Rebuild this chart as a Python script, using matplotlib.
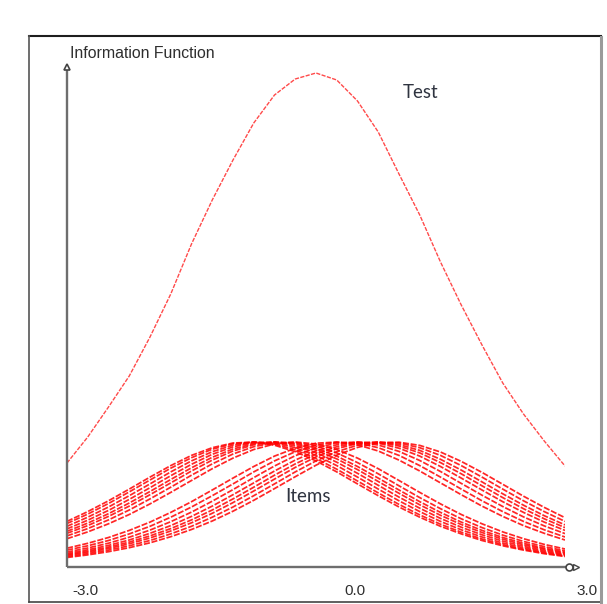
import matplotlib
matplotlib.use("Agg")
import matplotlib.pyplot as plt
from matplotlib.lines import Line2D

W, H = 607, 604  # output size in pixels

# theta scale shared by all curves
theta = [-3.0, -2.75, -2.5, -2.25, -2.0, -1.75, -1.5, -1.25, -1.0, -0.75, -0.5, -0.25,
         0.0, 0.25, 0.5, 0.75, 1.0, 1.25, 1.5, 1.75, 2.0, 2.25, 2.5, 2.75, 3.0]

# test information (same vertical units as the items)
test_info = [104, 130, 160, 191, 230, 273, 323, 367, 407, 444, 472, 488,
             494, 487, 466, 435, 393, 352, 305, 262, 222, 184, 153, 126, 101]

# items peaking left of centre
items_easy = [
    [45.6, 55.4, 66.2, 77.9, 89.9, 101.4, 111.6, 119.3, 124.0, 124.8, 121.8, 115.3, 106.1,
     95.1, 83.1, 71.3, 60.0, 49.8, 40.7, 33.1, 26.5, 21.2, 16.9, 13.3, 10.5],
    [43.5, 52.9, 63.5, 75.1, 87.0, 98.8, 109.3, 117.8, 123.2, 125.0, 122.9, 117.2, 108.5,
     97.8, 86.0, 74.1, 62.6, 52.1, 42.8, 34.8, 28.0, 22.4, 17.8, 14.1, 11.1],
    [40.7, 49.8, 60.0, 71.3, 83.1, 95.1, 106.1, 115.3, 121.8, 124.8, 124.0, 119.3, 111.6,
     101.4, 89.9, 77.9, 66.2, 55.4, 45.6, 37.2, 30.0, 24.0, 19.1, 15.2, 12.0],
    [38.1, 46.8, 56.6, 67.6, 79.3, 91.3, 102.7, 112.7, 120.1, 124.3, 124.7, 121.2, 114.4,
     104.8, 93.7, 81.7, 69.9, 58.8, 48.6, 39.8, 32.2, 25.9, 20.6, 16.4, 12.9],
    [35.7, 43.9, 53.3, 64.0, 75.5, 87.5, 99.2, 109.7, 118.0, 123.3, 125.0, 122.7, 116.9,
     108.1, 97.4, 85.5, 73.7, 62.2, 51.7, 42.5, 34.5, 27.8, 22.2, 17.7, 13.9],
    [33.7, 41.4, 50.6, 60.9, 72.3, 84.1, 96.0, 106.9, 116.0, 122.2, 124.9, 123.8, 118.8,
     110.9, 100.5, 88.9, 77.0, 65.3, 54.6, 44.9, 36.6, 29.5, 23.7, 18.8, 14.9],
    [31.1, 38.4, 47.1, 57.0, 68.1, 79.8, 91.8, 103.1, 113.0, 120.3, 124.3, 124.6, 121.0,
     114.1, 104.4, 93.2, 81.2, 69.4, 58.3, 48.2, 39.4, 31.9, 25.6, 20.4, 16.2],
    [28.3, 35.1, 43.2, 52.5, 63.1, 74.6, 86.5, 98.3, 108.9, 117.5, 123.0, 125.0, 123.0,
     117.5, 108.9, 98.3, 86.5, 74.6, 63.1, 52.5, 43.2, 35.1, 28.3, 22.6, 18.0],
]

# items peaking right of centre
items_hard = [
    [18.8, 23.7, 29.5, 36.6, 44.9, 54.6, 65.3, 77.0, 88.9, 100.5, 110.9, 118.8, 123.8,
     124.9, 122.2, 116.0, 106.9, 96.0, 84.1, 72.3, 60.9, 50.6, 41.4, 33.7, 27.0],
    [16.9, 21.2, 26.5, 33.1, 40.7, 49.8, 60.0, 71.3, 83.1, 95.1, 106.1, 115.3, 121.8,
     124.8, 124.0, 119.3, 111.6, 101.4, 89.9, 77.9, 66.2, 55.4, 45.6, 37.2, 30.0],
    [15.0, 19.0, 23.8, 29.8, 36.9, 45.3, 54.9, 65.8, 77.4, 89.4, 101.0, 111.3, 119.1,
     123.9, 124.9, 122.0, 115.6, 106.5, 95.5, 83.6, 71.8, 60.5, 50.1, 41.1, 33.4],
    [13.6, 17.2, 21.6, 27.0, 33.7, 41.4, 50.6, 60.9, 72.3, 84.1, 96.0, 106.9, 116.0,
     122.2, 124.9, 123.8, 118.8, 110.9, 100.5, 88.9, 77.0, 65.3, 54.6, 44.9, 36.6],
    [12.5, 15.8, 19.9, 24.9, 31.1, 38.4, 47.1, 57.0, 68.1, 79.8, 91.8, 103.1, 113.0,
     120.3, 124.3, 124.6, 121.0, 114.1, 104.4, 93.2, 81.2, 69.4, 58.3, 48.2, 39.4],
    [11.6, 14.6, 18.5, 23.2, 29.0, 36.0, 44.2, 53.7, 64.4, 76.0, 87.9, 99.6, 110.1,
     118.3, 123.5, 125.0, 122.5, 116.6, 107.7, 96.9, 85.1, 73.2, 61.8, 51.3, 42.1],
    [10.5, 13.3, 16.9, 21.2, 26.5, 33.1, 40.7, 49.8, 60.0, 71.3, 83.1, 95.1, 106.1,
     115.3, 121.8, 124.8, 124.0, 119.3, 111.6, 101.4, 89.9, 77.9, 66.2, 55.4, 45.6],
    [9.5, 12.1, 15.3, 19.3, 24.2, 30.3, 37.5, 46.0, 55.8, 66.7, 78.4, 90.3, 101.8,
     111.9, 119.6, 124.1, 124.8, 121.6, 115.0, 105.6, 94.6, 82.7, 70.8, 59.6, 49.3],
]

x_tick_labels = ["-3.0", "0.0", "3.0"]


def fx(px):
    return px / W


def fy(py):
    return 1 - py / H


fig = plt.figure(figsize=(W / 100, H / 100), dpi=100)
fig.patch.set_facecolor("white")

# plot area: theta -3 at x=67px, +3 at x=565px, zero at y=567px
ax = fig.add_axes([fx(67), fy(567), fx(565) - fx(67), fy(60) - fy(567)])
ax.set_xlim(-3, 3)
ax.set_ylim(0, 507)
ax.axis("off")

for curve in items_easy + items_hard:
    ax.plot(theta, curve, color="#ff0000", lw=1.25, ls=(0, (3.5, 1)), alpha=0.85,
            dash_capstyle="butt", solid_joinstyle="round")
ax.plot(theta, test_info, color="#ff4a4a", lw=1.0, ls=(0, (3, 1)),
        solid_joinstyle="round")

# axes with little arrow heads
grey = "#6e6e6e"
ax.plot([-3, 3.12], [0, 0], color=grey, lw=1.7, clip_on=False, solid_capstyle="butt")
ax.plot([-3, -3], [0, 499], color=grey, lw=1.7, clip_on=False, solid_capstyle="butt")
ax.plot([3.05], [0], marker="o", ms=5, mfc="white", mec="#444444", mew=1.2, clip_on=False)
ax.plot([3.13], [0], marker=">", ms=5, mfc="white", mec="#444444", mew=1.0, clip_on=False)
ax.plot([-3], [500], marker="^", ms=5, mfc="white", mec="#444444", mew=1.2, clip_on=False)

tick_kw = dict(va="center", fontsize=11, family="Liberation Sans", color="#2e2e2e")
fig.text(fx(72), fy(591), x_tick_labels[0], ha="left", **tick_kw)
fig.text(fx(355), fy(591), x_tick_labels[1], ha="center", **tick_kw)
fig.text(fx(598), fy(591), x_tick_labels[2], ha="right", **tick_kw)

fig.text(fx(70), fy(54), "Information Function", ha="left", va="center",
         fontsize=11.4, family="Liberation Sans", color="#2e2e2e")
fig.text(fx(421), fy(92), "Test", ha="center", va="center",
         fontsize=13.5, family="Lato", color="#2f3440")
fig.text(fx(308), fy(496), "Items", ha="center", va="center",
         fontsize=13.5, family="Lato", color="#2f3440")

# outer frame: dark top/left/bottom, grey right edge
fig.add_artist(Line2D([fx(29), fx(601)], [fy(36), fy(36)], color="#1e1e1e", lw=1.5))
fig.add_artist(Line2D([fx(29), fx(29)], [fy(36), fy(602)], color="#555555", lw=1.2))
fig.add_artist(Line2D([fx(29), fx(601)], [fy(602), fy(602)], color="#444444", lw=1.2))
fig.add_artist(Line2D([fx(601), fx(601)], [fy(37), fy(604)], color="#9a9a9a", lw=2.2))

fig.savefig("out.png", dpi=100)
